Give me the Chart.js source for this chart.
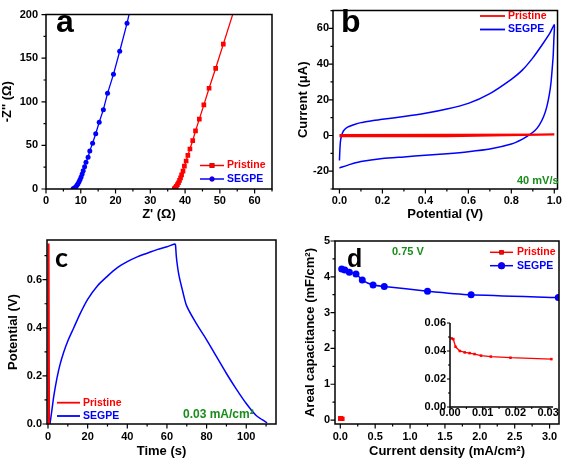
<!DOCTYPE html>
<html><head><meta charset="utf-8">
<script src="https://cdn.jsdelivr.net/npm/chart.js@4.4.1/dist/chart.umd.min.js"></script>
<style>
html,body{margin:0;padding:0;background:#fff;}
#wrap{position:relative;width:567px;height:461px;overflow:hidden;background:#fff;}
canvas{position:absolute;left:0;top:0;width:567px;height:461px;}
</style></head><body>
<div id="wrap">
<canvas id="ca" width="567" height="461"></canvas>
<canvas id="cb" width="567" height="461"></canvas>
<canvas id="cc" width="567" height="461"></canvas>
<canvas id="cd" width="567" height="461"></canvas>
<canvas id="ci" width="567" height="461"></canvas>
</div>
<script>
// ---------- DATA ----------
const seriesNames = ['Pristine', 'SEGPE'];
// (a) Nyquist plot: Z' (ohm) vs -Z'' (ohm)
const eisPristineRe = [36.9,37.1,37.3,37.5,37.8,38.1,38.4,38.7,39.0,39.4,39.8,40.3,40.8,41.4,42.2,43.0,44.1,45.4,46.9,48.8,51.0,54.0];
const eisPristineIm = [0.2,0.8,1.8,3.2,5.0,7.2,9.8,12.8,16.2,20.5,26.2,32.1,38.6,45.9,55.4,66.7,80.1,96.5,115.5,138.4,166.1,204];
const eisSegpeRe = [7.8,8.0,8.3,8.6,8.9,9.2,9.5,9.8,10.1,10.4,10.7,11.1,11.5,12.1,12.6,13.4,14.3,15.3,16.5,17.7,19.4,21.2,23.3,24.1];
const eisSegpeIm = [0.2,0.7,1.5,2.7,4.2,6.0,8.2,10.8,13.8,17.2,21.0,25.5,30.6,36.4,43.7,52.5,63.4,76.5,91.0,109.7,131.5,158.0,190.0,204];
// (b) CV at 40 mV/s: potential (V) vs current (uA)
const cvPristineV = [0.0,0.5,1.0,0.5,0.0];
const cvPristineI = [0.3,0.4,0.6,-0.4,-0.5];
const cvSegpeV = [0.000,0.002,0.005,0.010,0.020,0.040,0.070,0.100,0.150,0.200,0.300,0.400,0.500,0.600,0.700,0.800,0.850,0.900,0.950,0.980,1.000,
                  0.998,0.995,0.990,0.985,0.977,0.965,0.950,0.930,0.910,0.880,0.850,0.800,0.700,0.600,0.500,0.400,0.300,0.200,0.100,0.050,0.000];
const cvSegpeI = [-14,-8,-3,0,2.8,4.8,6.2,7.2,8.2,9.1,10.6,12.4,14.8,18.0,23.5,31.5,36.5,43.5,52,57.5,62,
                  54,45,37,30,23,16,10.5,5.8,2.8,0,-2.2,-4.8,-7.6,-9.1,-10.2,-11.1,-12.0,-12.9,-14.6,-16.2,-18.2];
// (c) GCD at 0.03 mA/cm2: time (s) vs potential (V)
const gcdPristineT = [0.05,0.3,0.55];
const gcdPristineV = [0,0.75,0];
const gcdSegpeT = [1,2,3,4.5,6,8,10,13,16,20,25,30,35,40,45,50,55,60,64,64.3,64.8,66,68,70,75,80,85,90,95,100,105,108,110.5];
const gcdSegpeV = [0,0.06,0.12,0.19,0.245,0.3,0.345,0.4,0.455,0.518,0.575,0.615,0.65,0.675,0.695,0.71,0.725,0.737,0.748,0.745,0.69,0.62,0.55,0.49,0.415,0.35,0.28,0.21,0.145,0.085,0.035,0.018,0.005];
// (d) areal capacitance (mF/cm2) vs current density (mA/cm2)
const capSegpeJ = [0.02,0.065,0.13,0.225,0.315,0.47,0.63,1.25,1.875,3.125];
const capSegpeC = [4.22,4.19,4.13,4.08,3.91,3.77,3.73,3.60,3.50,3.42];
const capPristineJ = [0.0005,0.001,0.0017,0.003,0.0045,0.006,0.0075,0.0095,0.0125,0.0185,0.031];
const capPristineC = [0.049,0.0485,0.043,0.040,0.039,0.0385,0.0378,0.0367,0.036,0.0352,0.0342];
// tick labels
const ticksAx = [0,10,20,30,40,50,60];
const ticksAy = [0,50,100,150,200];
const ticksBx = [0,0.2,0.4,0.6,0.8,1.0];
const ticksBy = [-20,0,20,40,60];
const ticksCx = [0,20,40,60,80,100];
const ticksCy = [0,0.2,0.4,0.6];
const ticksDx = [0,0.5,1.0,1.5,2.0,2.5,3.0];
const ticksDy = [0,1,2,3,4,5];
const ticksIx = [0,0.01,0.02,0.03];
const ticksIy = [0,0.02,0.04,0.06];

// ---------- STYLE ----------
const FONT = "'Liberation Sans', Arial, sans-serif";
const RED = '#ff0000', BLUE = '#0000ff', GREEN = '#1a8c1a';
Chart.defaults.font.family = FONT;
Chart.defaults.color = '#000';

const pts = (xs, ys) => xs.map((x, i) => ({x, y: ys[i]}));

function axis(o) {
  return {
    type: 'linear', min: o.min, max: o.max,
    grid: {display: false, drawTicks: false, tickLength: 0},
    border: {display: false},
    afterBuildTicks: s => { s.ticks = o.ticks.map(v => ({value: v})); },
    afterFit: s => { if (s.isHorizontal()) s.height = o.size; else s.width = o.size; },
    ticks: {autoSkip: false, maxRotation: 0, minRotation: 0, padding: o.pad, color: '#000',
      font: {family: FONT, size: o.fs || 11, weight: 'bold', lineHeight: o.lh || 1.2},
      callback: v => Number(v).toFixed(o.dec)},
    title: o.title ? {display: true, text: o.title, color: '#000', padding: 0,
      font: {family: FONT, size: 13, weight: 'bold'}} : {display: false}
  };
}

const framePlugin = {
  id: 'frame',
  afterDatasetsDraw(chart, args, o) {
    const {ctx, chartArea: a} = chart;
    const xs = chart.scales.x, ys = chart.scales.y;
    ctx.save();
    ctx.strokeStyle = '#000';
    ctx.lineWidth = o.lw;
    ctx.beginPath();
    if (o.box) ctx.rect(a.left, a.top, a.right - a.left, a.bottom - a.top);
    else { ctx.moveTo(a.left, a.top); ctx.lineTo(a.left, a.bottom); ctx.lineTo(a.right, a.bottom); }
    ctx.stroke();
    ctx.lineWidth = o.tw;
    ctx.beginPath();
    const draw = (sc, majors, step, horiz) => {
      const eps = step * 1e-3;
      const start = Math.ceil((sc.min - eps) / step) * step;
      for (let v = start; v <= sc.max + eps; v += step) {
        const isMajor = majors.some(m => Math.abs(m - v) < eps);
        const len = isMajor ? o.major : o.minor;
        const p = sc.getPixelForValue(v);
        if (horiz) { ctx.moveTo(p, a.bottom); ctx.lineTo(p, a.bottom + len); }
        else { ctx.moveTo(a.left, p); ctx.lineTo(a.left - len, p); }
      }
    };
    draw(xs, o.xMajor, o.xMinor, true);
    draw(ys, o.yMajor, o.yMinor, false);
    ctx.stroke();
    ctx.restore();
  }
};

const legendPlugin = {
  id: 'lg',
  afterDatasetsDraw(chart, args, o) {
    if (!o || !o.items) return;
    const ctx = chart.ctx;
    ctx.save();
    o.items.forEach((di, i) => {
      const ds = chart.data.datasets[di];
      const y = o.y + i * o.dy;
      ctx.strokeStyle = ds.borderColor;
      ctx.lineWidth = o.lw;
      ctx.beginPath(); ctx.moveTo(o.x, y); ctx.lineTo(o.x + o.len, y); ctx.stroke();
      if (o.marker) {
        Chart.helpers.drawPoint(ctx, {pointStyle: ds.pointStyle, radius: ds.pointRadius, borderWidth: 0, rotation: 0},
          o.x + o.len / 2, y);
        ctx.fillStyle = ds.borderColor; ctx.fill();
      }
      ctx.fillStyle = ds.borderColor;
      ctx.font = o.font;
      ctx.textBaseline = 'middle';
      ctx.textAlign = 'left';
      ctx.fillText(ds.label, o.x + o.len + o.gap, y);
    });
    ctx.restore();
  }
};

const textPlugin = {
  id: 'txt',
  afterDatasetsDraw(chart, args, o) {
    if (!o || !o.items) return;
    const ctx = chart.ctx;
    ctx.save();
    o.items.forEach(t => {
      ctx.font = t.font; ctx.fillStyle = t.color || '#000';
      ctx.textAlign = 'left'; ctx.textBaseline = t.base || 'alphabetic';
      ctx.fillText(t.text, t.x, t.y);
    });
    ctx.restore();
  }
};

Chart.register(framePlugin, legendPlugin, textPlugin);

function make(id, datasets, scales, padding, plugins) {
  return new Chart(document.getElementById(id), {
    type: 'scatter',
    data: {datasets},
    options: {
      responsive: false, animation: false, devicePixelRatio: 1,
      layout: {padding},
      scales,
      plugins: Object.assign({legend: {display: false}, tooltip: {enabled: false}}, plugins)
    }
  });
}

function ds(label, data, color, extra) {
  return Object.assign({label, data, borderColor: color, backgroundColor: color, showLine: true,
    borderWidth: 1.3, pointRadius: 0, pointBorderWidth: 0, tension: 0}, extra || {});
}

// ---------- (a) ----------
make('ca', [
  ds(seriesNames[0], pts(eisPristineRe, eisPristineIm), RED, {pointStyle: 'rect', pointRadius: 3.3}),
  ds(seriesNames[1], pts(eisSegpeRe, eisSegpeIm), BLUE, {pointStyle: 'circle', pointRadius: 2.5})
], {
  x: axis({min: 0, max: 65, ticks: ticksAx, dec: 0, size: 33.3, pad: 5, title: "Z' (\u03A9)"}),
  y: axis({min: 0, max: 200, ticks: ticksAy, dec: 0, size: 46, pad: 8, title: "-Z'' (\u03A9)"})
}, {left: 0, top: 6, right: 295, bottom: 238.7}, {
  frame: {lw: 1.5, tw: 1.2, box: true, major: 4.5, minor: 2.5, xMajor: ticksAx, xMinor: 5, yMajor: ticksAy, yMinor: 25},
  lg: {items: [0, 1], x: 200, y: 165.5, dy: 13.5, len: 24, gap: 3, lw: 1.5, marker: true, font: `bold 10.5px ${FONT}`},
  txt: {items: [{text: 'a', x: 56, y: 32, font: `bold 32px ${FONT}`}]}
});

// ---------- (b) ----------
make('cb', [
  ds(seriesNames[0], pts(cvPristineV, cvPristineI), RED, {borderWidth: 2}),
  ds(seriesNames[1], pts(cvSegpeV, cvSegpeI), BLUE, {borderWidth: 1.5, tension: 0.2})
], {
  x: axis({min: -0.03, max: 1.015, ticks: ticksBx, dec: 1, size: 33.3, pad: 5, title: 'Potential (V)'}),
  y: axis({min: -30, max: 70, ticks: ticksBy, dec: 0, size: 37.8, pad: 4, title: 'Current (\u03BCA)'})
}, {left: 295.2, top: 6, right: 4, bottom: 238.7}, {
  frame: {lw: 1.5, tw: 1.2, box: true, major: 4.5, minor: 2.5, xMajor: ticksBx, xMinor: 0.1, yMajor: ticksBy, yMinor: 10},
  lg: {items: [0, 1], x: 480, y: 16, dy: 13.5, len: 25, gap: 3, lw: 1.8, marker: false, font: `bold 10.5px ${FONT}`},
  txt: {items: [
    {text: 'b', x: 341, y: 32, font: `bold 32px ${FONT}`},
    {text: '40 mV/s', x: 517, y: 181, base: 'middle', color: GREEN, font: `bold 11px ${FONT}`}
  ]}
});

// ---------- (c) ----------
make('cc', [
  ds(seriesNames[0], pts(gcdPristineT, gcdPristineV), RED, {borderWidth: 2}),
  ds(seriesNames[1], pts(gcdSegpeT, gcdSegpeV), BLUE, {borderWidth: 1.5, tension: 0.3})
], {
  x: axis({min: -0.5, max: 115, ticks: ticksCx, dec: 0, size: 34.8, pad: 6, title: 'Time (s)'}),
  y: axis({min: 0, max: 0.765, ticks: ticksCy, dec: 1, size: 41.8, pad: 5, title: 'Potential (V)'})
}, {left: 5.2, top: 240, right: 291, bottom: 2.2}, {
  frame: {lw: 1.5, tw: 1.2, box: true, major: 4.5, minor: 2.5, xMajor: ticksCx, xMinor: 10, yMajor: ticksCy, yMinor: 0.1},
  lg: {items: [0, 1], x: 57, y: 402.7, dy: 13.3, len: 23, gap: 3, lw: 1.8, marker: false, font: `bold 10.5px ${FONT}`},
  txt: {items: [
    {text: 'c', x: 55, y: 267, font: `bold 27px Lato, ${FONT}`},
    {text: '0.03 mA/cm\u00B2', x: 183, y: 415, base: 'middle', color: GREEN, font: `bold 12px ${FONT}`}
  ]}
});

// ---------- (d) ----------
make('cd', [
  ds(seriesNames[0], pts(capPristineJ, capPristineC), RED, {pointStyle: 'rect', pointRadius: 3}),
  ds(seriesNames[1], pts(capSegpeJ, capSegpeC), BLUE, {pointStyle: 'circle', pointRadius: 3.5, borderWidth: 1.5, tension: 0.2})
], {
  x: axis({min: -0.076, max: 3.135, ticks: ticksDx, dec: 1, size: 34.8, pad: 6, title: 'Current density (mA/cm\u00B2)'}),
  y: axis({min: -0.11, max: 5, ticks: ticksDy, dec: 0, size: 32.3, pad: 5, title: 'Areal capacitance (mF/cm\u00B2)'})
}, {left: 302.7, top: 241, right: 8, bottom: 2.2}, {
  frame: {lw: 1.5, tw: 1.2, box: true, major: 4.5, minor: 2.5, xMajor: ticksDx, xMinor: 0.25, yMajor: ticksDy, yMinor: 0.5},
  lg: {items: [0, 1], x: 490, y: 252.3, dy: 13.4, len: 23, gap: 4, lw: 1.5, marker: true, font: `bold 10.5px ${FONT}`},
  txt: {items: [
    {text: 'd', x: 347, y: 267, font: `bold 25px ${FONT}`},
    {text: '0.75 V', x: 392, y: 252, base: 'middle', color: GREEN, font: `bold 11px ${FONT}`}
  ]}
});

// ---------- (d) inset ----------
make('ci', [
  ds(seriesNames[0], pts(capPristineJ, capPristineC), RED, {pointStyle: 'rect', pointRadius: 1.8, borderWidth: 1.3})
], {
  x: axis({min: 0, max: 0.0315, ticks: ticksIx, dec: 2, size: 14, pad: 0, lh: 1}),
  y: axis({min: 0, max: 0.06, ticks: ticksIy, dec: 2, size: 32, pad: 4})
}, {left: 418, top: 323, right: 14, bottom: 40}, {
  frame: {lw: 1.5, tw: 1.1, box: false, major: 3, minor: 2, xMajor: ticksIx, xMinor: 0.005, yMajor: ticksIy, yMinor: 0.01}
});
</script>
</body></html>
